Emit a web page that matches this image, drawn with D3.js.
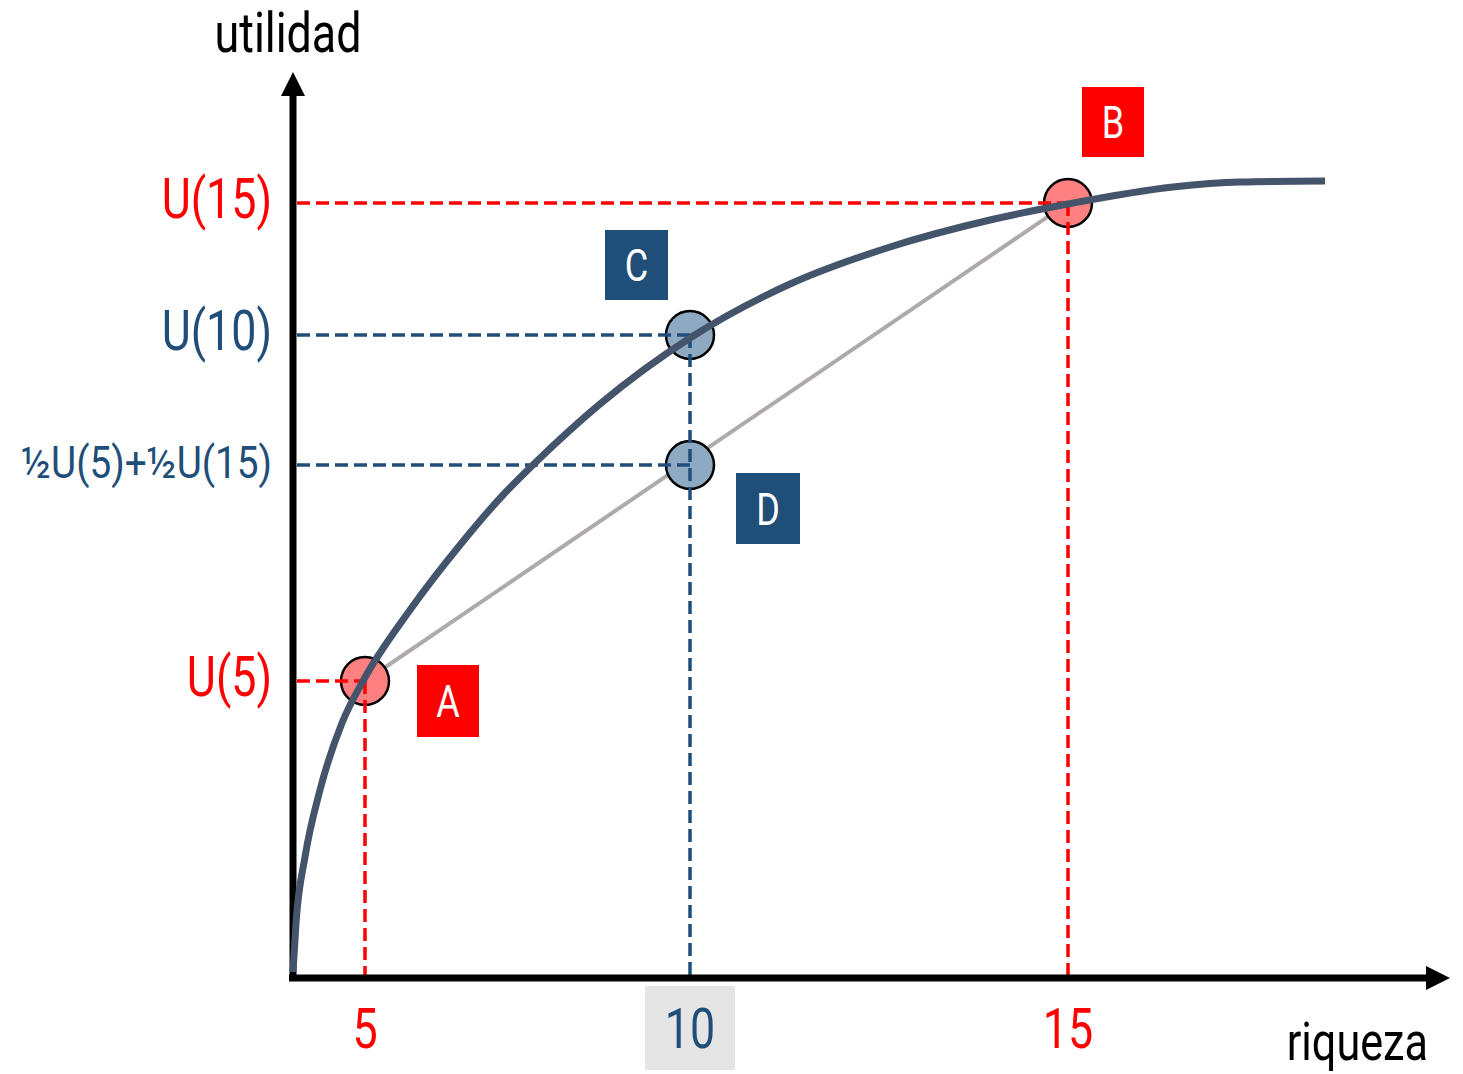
<!DOCTYPE html>
<html>
<head>
<meta charset="utf-8">
<script src="https://cdn.jsdelivr.net/npm/d3@7"></script>
<style>
  html, body { margin: 0; padding: 0; background: #fff; }
  svg text { font-family: Roboto, 'Liberation Sans', sans-serif; }
</style>
</head>
<body>
<div id="chart"></div>
<script>
// Utility curve (chart units, 1 unit = 10px)
const curveX = [0, 0.3, 1.2, 2.7, 4.9, 7.0, 11.7, 16.7, 21, 24.4, 30.7, 39.7, 49.7, 59.7, 69.7, 77.5, 88, 94.7, 103.2];
const curveY = [0.6, 5.5, 12.1, 18.8, 25.5, 29.7, 36.8, 43.3, 48.3, 51.7, 57.4, 64, 69.4, 73.1, 75.8, 77.4, 79.1, 79.6, 79.7];

// Marked points
const pointNames = ['A', 'B', 'C', 'D'];
const pointX = [7.2, 77.5, 39.7, 39.7];
const pointY = [29.7, 77.5, 64.3, 51.3];

// Tick labels
const xTickLabels = ['5', '10', '15'];
const xTickValues = [7.2, 39.7, 77.5];
const yTickLabels = ['U(5)', '½U(5)+½U(15)', 'U(10)', 'U(15)'];
const yTickValues = [29.7, 51.3, 64.3, 77.5];

const RED = '#ff0000';
const BLUE = '#1f4e79';
const SX = 0.8; // condensed look

const width = 1463, height = 1074;
const svg = d3.select('#chart').append('svg')
    .attr('width', width)
    .attr('height', height);

const x = d3.scaleLinear().domain([0, 115.7]).range([293, 1450]);
const y = d3.scaleLinear().domain([0, 90.6]).range([978, 72]);

const pts = pointNames.map((n, i) => ({ name: n, x: pointX[i], y: pointY[i] }));
const P = Object.fromEntries(pts.map(p => [p.name, p]));

// condensed text helper
function label(tx, ty, str, size, color, anchor, sx) {
    return svg.append('text')
        .attr('transform', `translate(${tx},${ty}) scale(${sx || SX},1)`)
        .attr('text-anchor', anchor || 'middle')
        .attr('font-size', size + 'px')
        .attr('fill', color)
        .text(str);
}

// Callout boxes (offsets in px from the point)
const boxes = {
    A: { dx: 52, dy: -16, w: 62, h: 72, fill: RED },
    B: { dx: 14, dy: -116, w: 62, h: 70, fill: RED },
    C: { dx: -85, dy: -105, w: 63, h: 70, fill: BLUE },
    D: { dx: 46, dy: 8, w: 64, h: 71, fill: BLUE }
};

// Gray box behind "10"
svg.append('rect')
    .attr('x', x(xTickValues[1]) - 45)
    .attr('y', 986)
    .attr('width', 90)
    .attr('height', 84)
    .attr('fill', '#e5e5e5');

// Chord A-B
svg.append('line')
    .attr('x1', x(P.A.x)).attr('y1', y(P.A.y))
    .attr('x2', x(P.B.x)).attr('y2', y(P.B.y))
    .attr('stroke', '#aeaaaa')
    .attr('stroke-width', 4);

// Circles
svg.selectAll('.pt')
    .data(pts)
    .enter()
    .append('circle')
    .attr('class', 'pt')
    .attr('cx', d => x(d.x))
    .attr('cy', d => y(d.y))
    .attr('r', 24)
    .attr('fill', d => (d.name === 'A' || d.name === 'B') ? '#ff8080' : '#8eaac2')
    .attr('stroke', '#000')
    .attr('stroke-width', 2.5);

// Dashed guide lines
function dashed(x1, y1, x2, y2, color) {
    svg.append('line')
        .attr('x1', x1).attr('y1', y1)
        .attr('x2', x2).attr('y2', y2)
        .attr('stroke', color).attr('stroke-width', 3.5)
        .attr('stroke-dasharray', '13,6');
}
[['A', RED], ['B', RED], ['C', BLUE], ['D', BLUE]].forEach(([n, c]) => {
    dashed(297, y(P[n].y), x(P[n].x), y(P[n].y), c);
});
dashed(x(P.A.x), y(P.A.y), x(P.A.x), y(0) - 3, RED);
dashed(x(P.B.x), y(P.B.y), x(P.B.x), y(0) - 3, RED);
dashed(x(P.C.x), y(P.C.y), x(P.C.x), y(0) - 3, BLUE);

// Axes with arrow heads
const xEnd = x.domain()[1], yEnd = y.domain()[1];
svg.append('line')
    .attr('x1', 289).attr('y1', y(0))
    .attr('x2', x(xEnd) - 22).attr('y2', y(0))
    .attr('stroke', '#000').attr('stroke-width', 7);
svg.append('path')
    .attr('d', `M${x(xEnd)},${y(0)} L${x(xEnd) - 24},${y(0) - 12} L${x(xEnd) - 24},${y(0) + 12} Z`)
    .attr('fill', '#000');
svg.append('line')
    .attr('x1', x(0)).attr('y1', y(0) + 3)
    .attr('x2', x(0)).attr('y2', y(yEnd) + 22)
    .attr('stroke', '#000').attr('stroke-width', 7);
svg.append('path')
    .attr('d', `M${x(0)},${y(yEnd)} L${x(0) - 12},${y(yEnd) + 24} L${x(0) + 12},${y(yEnd) + 24} Z`)
    .attr('fill', '#000');

// Utility curve
const curveData = curveX.map((v, i) => ({ x: v, y: curveY[i] }));
const line = d3.line()
    .x(d => x(d.x))
    .y(d => y(d.y))
    .curve(d3.curveMonotoneX);
svg.append('path')
    .datum(curveData)
    .attr('fill', 'none')
    .attr('stroke', '#44546a')
    .attr('stroke-width', 7)
    .attr('d', line);

// Callout boxes
pointNames.forEach(n => {
    const b = boxes[n], p = P[n];
    const bx = x(p.x) + b.dx, by = y(p.y) + b.dy;
    svg.append('rect')
        .attr('x', bx).attr('y', by)
        .attr('width', b.w).attr('height', b.h)
        .attr('fill', b.fill);
    label(bx + b.w / 2, by + b.h / 2 + 16, n, 45, '#fff', 'middle');
});

// Y tick labels
const yColors = [RED, BLUE, BLUE, RED];
const ySizes = [56, 44, 56, 56];
const ySx = [SX, 0.88, SX, SX];
yTickLabels.forEach((t, i) => {
    label(272, y(yTickValues[i]) + (i === 1 ? 13 : 15), t, ySizes[i], yColors[i], 'end', ySx[i]);
});

// X tick labels
const xColors = [RED, BLUE, RED];
xTickLabels.forEach((t, i) => {
    label(x(xTickValues[i]), 1048, t, 56, xColors[i], 'middle');
});

// Axis titles
label(288, 52, 'utilidad', 56, '#000', 'middle');
label(1428, 1060, 'riqueza', 54, '#000', 'end');
</script>
</body>
</html>
